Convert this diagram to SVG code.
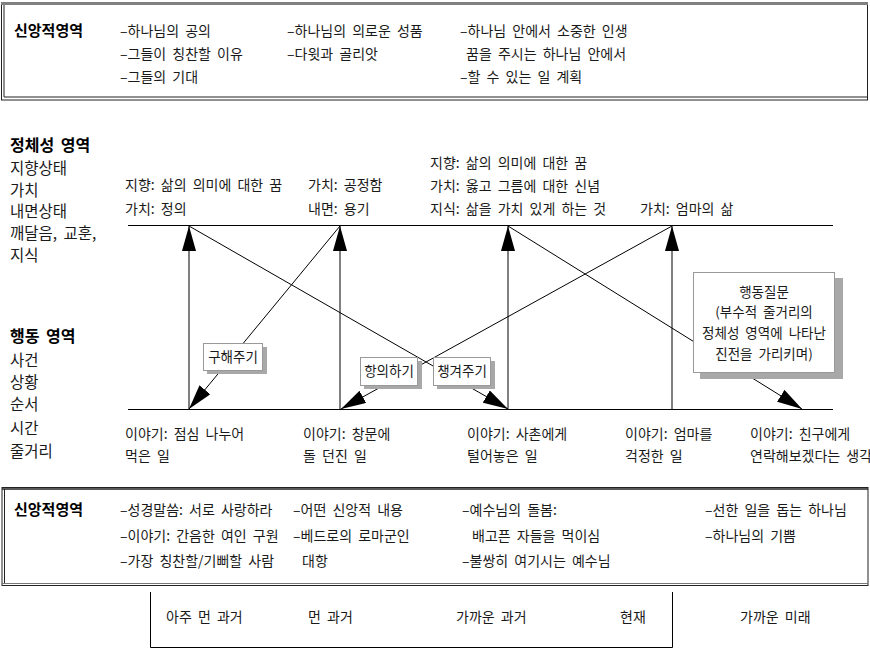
<svg xmlns="http://www.w3.org/2000/svg" width="870" height="649" viewBox="0 0 870 649">
<style>
text{font-family:"Noto Sans CJK KR","Noto Sans",sans-serif;fill:#1a1a1a;word-spacing:3px}
.t{font-size:14px}
.h{font-size:15px;font-weight:bold;fill:#000}
.hl{font-size:16px;font-weight:bold;fill:#000}
.l{font-size:15.5px}
.s{font-size:13.5px}
.ln{stroke:#000;stroke-width:1;fill:none}
.box{fill:#fff;stroke:#999;stroke-width:1}
.sh{fill:#a8a8a8}
</style>
<defs>
<marker id="ah" viewBox="0 0 25 14" refX="25" refY="7" markerWidth="25" markerHeight="14" markerUnits="userSpaceOnUse" orient="auto">
<path d="M0,0 L25,7 L0,14 z" fill="#000"/>
</marker>
</defs>

<g id="top-box">
<rect x="1.5" y="3" width="866" height="97" fill="none" stroke="#222"/>
<line x1="1" y1="3.5" x2="868" y2="3.5" stroke="#808080" stroke-width="3"/>
<line x1="4" y1="5" x2="4" y2="97" stroke="#222"/>
<line x1="4" y1="97" x2="867" y2="97" stroke="#222"/>
<text class="h" x="14" y="36">신앙적영역</text>
<text class="t" x="120" y="36">–하나님의 공의</text>
<text class="t" x="120" y="59">–그들이 칭찬할 이유</text>
<text class="t" x="120" y="82">–그들의 기대</text>
<text class="t" x="287" y="36">–하나님의 의로운 성품</text>
<text class="t" x="287" y="59">–다윗과 골리앗</text>
<text class="t" x="460" y="36">–하나님 안에서 소중한 인생</text>
<text class="t" x="466" y="59">꿈을 주시는 하나님 안에서</text>
<text class="t" x="460" y="82">–할 수 있는 일 계획</text>
</g>

<g id="identity-labels">
<text class="hl" x="10" y="151">정체성 영역</text>
<text class="l" x="10" y="174">지향상태</text>
<text class="l" x="10" y="196">가치</text>
<text class="l" x="10" y="217">내면상태</text>
<text class="l" x="10" y="239">깨달음, 교훈,</text>
<text class="l" x="10" y="261">지식</text>
</g>

<g id="action-labels">
<text class="hl" x="10" y="342">행동 영역</text>
<text class="l" x="10" y="366">사건</text>
<text class="l" x="10" y="388">상황</text>
<text class="l" x="10" y="410">순서</text>
<text class="l" x="10" y="434">시간</text>
<text class="l" x="10" y="457">줄거리</text>
</g>

<g id="identity-1"><text class="t" x="125" y="190">지향: 삶의 의미에 대한 꿈</text><text class="t" x="125" y="214">가치: 정의</text></g>
<g id="identity-2"><text class="t" x="308" y="190">가치: 공정함</text><text class="t" x="308" y="214">내면: 용기</text></g>
<g id="identity-3"><text class="t" x="430" y="168">지향: 삶의 의미에 대한 꿈</text><text class="t" x="430" y="191">가치: 옳고 그름에 대한 신념</text><text class="t" x="430" y="214">지식: 삶을 가치 있게 하는 것</text></g>
<g id="identity-4"><text class="t" x="640" y="214">가치: 엄마의 삶</text></g>

<g id="event-1"><text class="t" x="125" y="439">이야기: 점심 나누어</text><text class="t" x="125" y="461">먹은 일</text></g>
<g id="event-2"><text class="t" x="303" y="439">이야기: 창문에</text><text class="t" x="303" y="461">돌 던진 일</text></g>
<g id="event-3"><text class="t" x="467" y="439">이야기: 사촌에게</text><text class="t" x="467" y="461">털어놓은 일</text></g>
<g id="event-4"><text class="t" x="625" y="439">이야기: 엄마를</text><text class="t" x="625" y="461">걱정한 일</text></g>
<g id="event-5"><text class="t" x="750" y="439">이야기: 친구에게</text><text class="t" x="750" y="461">연락해보겠다는 생각</text></g>

<g id="connectors">
<line class="ln" x1="128" y1="225.5" x2="833" y2="225.5"/>
<line class="ln" x1="128" y1="409.5" x2="833" y2="409.5"/>
<line class="ln" x1="189" y1="409" x2="189" y2="226" marker-end="url(#ah)"/>
<line class="ln" x1="340" y1="409" x2="340" y2="226" marker-end="url(#ah)"/>
<line class="ln" x1="508" y1="409" x2="508" y2="226" marker-end="url(#ah)"/>
<line class="ln" x1="672" y1="409" x2="672" y2="226" marker-end="url(#ah)"/>
<line class="ln" x1="340" y1="226" x2="189" y2="409" marker-end="url(#ah)"/>
<line class="ln" x1="672" y1="226" x2="341" y2="409" marker-end="url(#ah)"/>
<line class="ln" x1="189" y1="226" x2="508" y2="409" marker-end="url(#ah)"/>
<line class="ln" x1="508" y1="226" x2="802" y2="409" marker-end="url(#ah)"/>
</g>

<g id="label-rescue">
<rect class="sh" x="207" y="347" width="60" height="27"/>
<rect class="box" x="203.5" y="343.5" width="59" height="27"/>
<text class="s" x="233" y="362" text-anchor="middle">구해주기</text>
</g>
<g id="label-protest">
<rect class="sh" x="364" y="361" width="58" height="28"/>
<rect class="box" x="360.5" y="357.5" width="57" height="28"/>
<text class="s" x="389" y="376" text-anchor="middle">항의하기</text>
</g>
<g id="label-care">
<rect class="sh" x="437" y="361" width="58" height="28"/>
<rect class="box" x="433.5" y="357.5" width="57" height="28"/>
<text class="s" x="462" y="376" text-anchor="middle">챙겨주기</text>
</g>
<g id="label-question">
<rect class="sh" x="700" y="278" width="143" height="101"/>
<rect class="box" x="693.5" y="272.5" width="141" height="100"/>
<text class="s" x="764" y="297" text-anchor="middle">행동질문</text>
<text class="s" x="764" y="317" text-anchor="middle">(부수적 줄거리의</text>
<text class="s" x="764" y="338" text-anchor="middle">정체성 영역에 나타난</text>
<text class="s" x="764" y="359" text-anchor="middle">진전을 가리키며)</text>
</g>

<g id="bottom-box">
<rect x="2" y="487.5" width="866" height="98" fill="none" stroke="#222"/>
<line x1="2" y1="489" x2="868" y2="489" stroke="#222" stroke-width="1.5"/>
<line x1="4.5" y1="489" x2="4.5" y2="584" stroke="#222"/>
<line x1="2" y1="583.5" x2="868" y2="583.5" stroke="#777"/>
<text class="h" x="14" y="515">신앙적영역</text>
<text class="t" x="120" y="515">–성경말씀: 서로 사랑하라</text>
<text class="t" x="120" y="541">–이야기: 간음한 여인 구원</text>
<text class="t" x="120" y="566">–가장 칭찬할/기뻐할 사람</text>
<text class="t" x="293" y="515">–어떤 신앙적 내용</text>
<text class="t" x="293" y="541">–베드로의 로마군인</text>
<text class="t" x="302" y="566">대항</text>
<text class="t" x="462" y="515">–예수님의 돌봄:</text>
<text class="t" x="472" y="541">배고픈 자들을 먹이심</text>
<text class="t" x="462" y="566">–불쌍히 여기시는 예수님</text>
<text class="t" x="705" y="515">–선한 일을 돕는 하나님</text>
<text class="t" x="705" y="541">–하나님의 기쁨</text>
</g>

<g id="timeline">
<path class="ln" d="M150.5,592 V647.5 H672.5 V592"/>
<text class="t" x="166" y="622">아주 먼 과거</text>
<text class="t" x="308" y="622">먼 과거</text>
<text class="t" x="456" y="622">가까운 과거</text>
<text class="t" x="620" y="622">현재</text>
<text class="t" x="740" y="622">가까운 미래</text>
</g>
</svg>
